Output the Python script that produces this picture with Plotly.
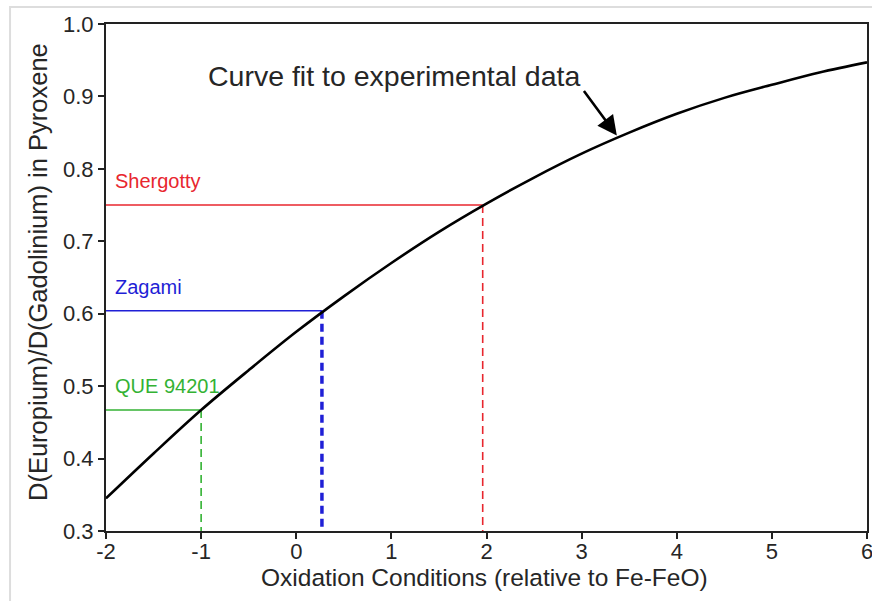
import plotly.graph_objects as go

curve_x = [-2.0, -1.5, -1.0, -0.5, 0.0, 0.5, 1.0, 1.5, 2.0, 2.5, 3.0, 3.5, 4.0, 4.5, 5.0, 5.5, 6.0]
curve_y = [0.345, 0.407, 0.467, 0.522, 0.575, 0.624, 0.670, 0.713, 0.752, 0.788, 0.821, 0.850, 0.876, 0.898, 0.916, 0.933, 0.947]

# Meteorites: name, oxidation condition, Eu/Gd ratio
meteorites = ["Shergotty", "Zagami", "QUE 94201"]
met_x = [1.96, 0.27, -1.0]
met_y = [0.75, 0.604, 0.467]
met_colors = ["#e8262e", "#1f1fd6", "#33b233"]
met_vwidth = [1.6, 3.5, 1.6]

x_tickvals = [-2, -1, 0, 1, 2, 3, 4, 5, 6]
x_ticktext = ["-2", "-1", "0", "1", "2", "3", "4", "5", "6"]
y_tickvals = [0.3, 0.4, 0.5, 0.6, 0.7, 0.8, 0.9, 1.0]
y_ticktext = ["0.3", "0.4", "0.5", "0.6", "0.7", "0.8", "0.9", "1.0"]

x_title = "Oxidation Conditions (relative to Fe-FeO)"
y_title = "D(Europium)/D(Gadolinium) in Pyroxene"

FONT = "Liberation Sans, Arial, Helvetica, sans-serif"
TXT = "#262626"

fig = go.Figure()

for name, mx, my, col, vw in zip(meteorites, met_x, met_y, met_colors, met_vwidth):
    fig.add_trace(go.Scatter(x=[-2, mx], y=[my, my], mode="lines",
                             line=dict(color=col, width=1.6), showlegend=False, hoverinfo="skip"))
    fig.add_trace(go.Scatter(x=[mx, mx], y=[my, 0.3], mode="lines",
                             line=dict(color=col, width=vw, dash="8px,5px"), showlegend=False, hoverinfo="skip"))
    fig.add_annotation(x=-1.93, y=my + 0.033, text=name, showarrow=False, xanchor="left", yanchor="middle",
                       font=dict(family=FONT, size=20, color=col))

fig.add_trace(go.Scatter(x=curve_x, y=curve_y, mode="lines", line=dict(color="black", width=2.6, shape="spline"),
                         showlegend=False, hoverinfo="skip"))

fig.add_annotation(x=-0.95, y=0.928, text="Curve fit to experimental data", showarrow=False,
                   xanchor="left", yanchor="middle", font=dict(family=FONT, size=28.5, color=TXT))
fig.add_annotation(x=3.37, y=0.846, text="", showarrow=True, ax=-34, ay=-46,
                   arrowhead=2, arrowsize=1.5, arrowwidth=2.6, arrowcolor="black")

# axis titles
fig.add_annotation(xref="paper", yref="paper", x=0.498, y=-0.0917, text=x_title, showarrow=False,
                   xanchor="center", yanchor="middle", font=dict(family=FONT, size=24.5, color=TXT))
fig.add_annotation(xref="paper", yref="paper", x=-0.0894, y=0.5108, text=y_title, showarrow=False,
                   textangle=-90, xanchor="center", yanchor="middle", font=dict(family=FONT, size=25.5, color=TXT))

# light gray frame of the original picture
fig.add_shape(type="rect", xref="paper", yref="paper", x0=-0.1261, y0=-0.2, x1=1.03, y1=1.0335,
              line=dict(color="#dddddd", width=2), layer="below")

fig.update_layout(
    width=872, height=601,
    margin=dict(l=106, r=5, t=24, b=70),
    paper_bgcolor="white", plot_bgcolor="white",
    font=dict(family=FONT, color=TXT),
    xaxis=dict(range=[-2, 6], tickvals=x_tickvals, ticktext=x_ticktext, showgrid=False, zeroline=False,
               automargin=False, ticklabeloverflow="allow", ticklabelstandoff=-6,
               showline=True, linecolor="#222222", linewidth=2, mirror=True,
               ticks="outside", ticklen=6, tickwidth=2, tickcolor="#222222",
               tickfont=dict(family=FONT, size=22, color=TXT)),
    yaxis=dict(range=[0.3, 1.0], tickvals=y_tickvals, ticktext=y_ticktext, showgrid=False, zeroline=False,
               automargin=False, ticklabeloverflow="allow",
               showline=True, linecolor="#222222", linewidth=2, mirror=True,
               ticks="outside", ticklen=6, tickwidth=2, tickcolor="#222222",
               tickfont=dict(family=FONT, size=22, color=TXT)),
)

fig.write_html("out.html", config={"displayModeBar": False},
               post_script="document.body.style.margin='0px';document.body.style.overflow='hidden';")
